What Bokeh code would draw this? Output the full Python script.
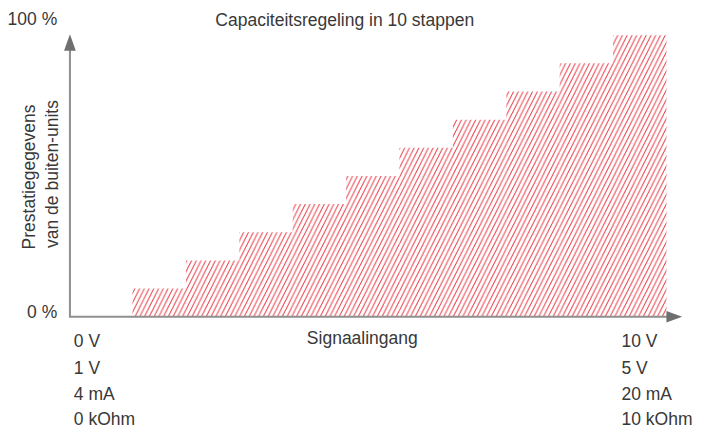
from bokeh.plotting import figure
from bokeh.models import Range1d, Label
from bokeh.embed import file_html
from bokeh.resources import INLINE

# ---- data ----
step_left = [1, 2, 3, 4, 5, 6, 7, 8, 9, 10]
step_right = [2, 3, 4, 5, 6, 7, 8, 9, 10, 11]
capacity = [10, 20, 30, 40, 50, 60, 70, 80, 90, 100]
title_text = "Capaciteitsregeling in 10 stappen"
y_label_lines = ["Prestatiegegevens", "van de buiten-units"]
x_label = "Signaalingang"
y_ticks = ["100 %", "0 %"]
left_signal = ["0 V", "1 V", "4 mA", "0 kOhm"]
right_signal = ["10 V", "5 V", "20 mA", "10 kOhm"]

# ---- layout (reference pixel positions scaled into the canvas) ----
W, H = 708, 429
SX, SY = W / 724, H / 445
PX_X = 54.6 * SX          # pixels per step
PX_Y = 2.92 * SY          # pixels per percent
X0_CANVAS = 135 * SX      # canvas x of the first step edge
Y0_CANVAS = 328 * SY      # canvas y of 0 %
x_start = step_left[0] - X0_CANVAS / PX_X
x_end = x_start + W / PX_X
y_end = Y0_CANVAS / PX_Y
y_start = y_end - H / PX_Y
TXT_SHIFT = 7             # rendered text sits this much past its anchor


def dx(rx):
    return x_start + rx * SX / PX_X


def dy(ry):
    return (Y0_CANVAS - ry * SY) / PX_Y


p = figure(width=W, height=H, output_backend="svg", toolbar_location=None,
           x_range=Range1d(x_start, x_end), y_range=Range1d(y_start, y_end),
           min_border=0, x_axis_location=None, y_axis_location=None)
p.grid.visible = False
p.outline_line_color = None
p.background_fill_color = "white"
p.border_fill_color = "white"

# hatched staircase
p.quad(left=step_left, right=step_right, bottom=0, top=capacity,
       fill_alpha=0, line_color=None,
       hatch_pattern="/", hatch_color="#e63a45", hatch_weight=1.0,
       hatch_scale=9.5)

AX = "#8f8f8f"
HEAD = "#6f6f6f"
# y axis
p.line([dx(71), dx(71)], [0, dy(50)], line_color=AX, line_width=2)
p.patch([dx(65), dx(71), dx(77)], [dy(52), dy(35), dy(52)],
        fill_color=HEAD, line_color=None)
# x axis
p.line([dx(70), dx(683)], [0, 0], line_color=AX, line_width=2)
p.patch([dx(681), dx(697), dx(681)], [dy(322), dy(328), dy(334)],
        fill_color=HEAD, line_color=None)

FONT = "Liberation Sans"
COL = "#383838"
FS = "17.5px"


def lab(txt, x, y, align="left", angle=0.0):
    if angle:
        x -= TXT_SHIFT
    else:
        y -= TXT_SHIFT
    p.add_layout(Label(x=dx(x), y=dy(y), text=txt, text_font=FONT,
                       text_font_size=FS, text_color=COL, text_align=align,
                       text_baseline="alphabetic", angle=angle))


lab(title_text, 352, 27, "center")
lab(y_ticks[0], 58, 26, "right")
lab(y_ticks[1], 58, 330, "right")
lab(y_label_lines[0], 36, 183, "center", 1.5707963)
lab(y_label_lines[1], 60, 180, "center", 1.5707963)
lab(x_label, 370, 357, "center")

rows = [360, 388, 415, 441]
for t, r in zip(left_signal, rows):
    lab(t, 75, r, "left")
for t, r in zip(right_signal, rows):
    lab(t, 635, r, "left")

open("out.html", "w").write(file_html(p, INLINE))
